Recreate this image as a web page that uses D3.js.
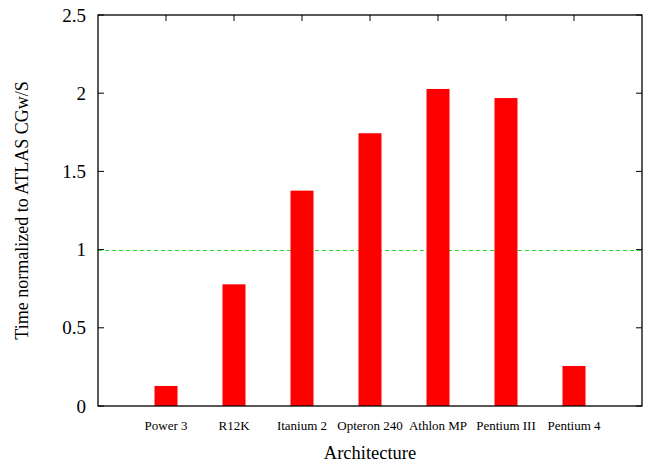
<!DOCTYPE html>
<html>
<head>
<meta charset="utf-8">
<script src="https://cdn.jsdelivr.net/npm/d3@7"></script>
<style>
  body { margin: 0; background: #fff; }
  text { font-family: "Liberation Serif", "Times New Roman", serif; fill: #000; }
</style>
</head>
<body>
<div id="chart"></div>
<script>
// chart data
const architectures = ["Power 3", "R12K", "Itanium 2", "Opteron 240", "Athlon MP", "Pentium III", "Pentium 4"];
const normalizedTimes = [0.128, 0.778, 1.377, 1.744, 2.027, 1.969, 0.256];
const yTicks = [0, 0.5, 1, 1.5, 2, 2.5];
const referenceLevel = 1;

const width = 646, height = 466;
const margin = { top: 15, right: 4, bottom: 60, left: 98 };
const plotW = width - margin.left - margin.right;
const plotH = height - margin.top - margin.bottom;

const svg = d3.select("#chart").append("svg")
    .attr("width", width)
    .attr("height", height);

const g = svg.append("g")
    .attr("transform", `translate(${margin.left},${margin.top})`);

// categories sit at integer positions, range padded by one on each side
const x = d3.scaleLinear()
    .domain([-1, architectures.length])
    .range([0, plotW]);

const y = d3.scaleLinear()
    .domain([0, 2.5])
    .range([plotH, 0]);

const barW = 23;
const tickLen = 6;

// y ticks, left and mirrored right
yTicks.forEach(t => {
    g.append("line")
        .attr("x1", 0).attr("x2", tickLen)
        .attr("y1", y(t)).attr("y2", y(t))
        .attr("stroke", "#000");
    g.append("line")
        .attr("x1", plotW).attr("x2", plotW - tickLen)
        .attr("y1", y(t)).attr("y2", y(t))
        .attr("stroke", "#000");
    g.append("text")
        .attr("x", -12)
        .attr("y", y(t))
        .attr("dy", "0.35em")
        .attr("text-anchor", "end")
        .style("font-size", "19px")
        .text(t);
});

// x ticks top and bottom
architectures.forEach((a, i) => {
    g.append("line")
        .attr("x1", x(i)).attr("x2", x(i))
        .attr("y1", 0).attr("y2", tickLen)
        .attr("stroke", "#000");
    g.append("line")
        .attr("x1", x(i)).attr("x2", x(i))
        .attr("y1", plotH).attr("y2", plotH - tickLen)
        .attr("stroke", "#000");
    g.append("text")
        .attr("x", x(i))
        .attr("y", plotH + 24)
        .attr("text-anchor", "middle")
        .style("font-size", "13px")
        .text(a);
});

// reference line
g.append("line")
    .attr("x1", 0).attr("x2", plotW)
    .attr("y1", Math.round(y(referenceLevel)) + 0.5)
    .attr("y2", Math.round(y(referenceLevel)) + 0.5)
    .attr("stroke", "#22dd22")
    .attr("stroke-width", 1.2)
    .attr("stroke-dasharray", "4,3");

// bars
g.selectAll(".bar")
    .data(normalizedTimes)
    .enter()
    .append("rect")
    .attr("class", "bar")
    .attr("x", (d, i) => x(i) - barW / 2)
    .attr("y", d => y(d))
    .attr("width", barW)
    .attr("height", d => plotH - y(d))
    .attr("fill", "#ff0000");

// frame
g.append("rect")
    .attr("x", 0).attr("y", 0)
    .attr("width", plotW).attr("height", plotH)
    .attr("fill", "none")
    .attr("stroke", "#000")
    .attr("stroke-width", 1.3);

// axis titles
svg.append("text")
    .attr("x", margin.left + plotW / 2)
    .attr("y", 459)
    .attr("text-anchor", "middle")
    .style("font-size", "18.5px")
    .text("Architecture");

svg.append("text")
    .attr("transform", `translate(22,${margin.top + plotH / 2}) rotate(-90)`)
    .attr("text-anchor", "middle")
    .attr("dy", "0.35em")
    .style("font-size", "18px")
    .text("Time normalized to ATLAS CGw/S");
</script>
</body>
</html>
